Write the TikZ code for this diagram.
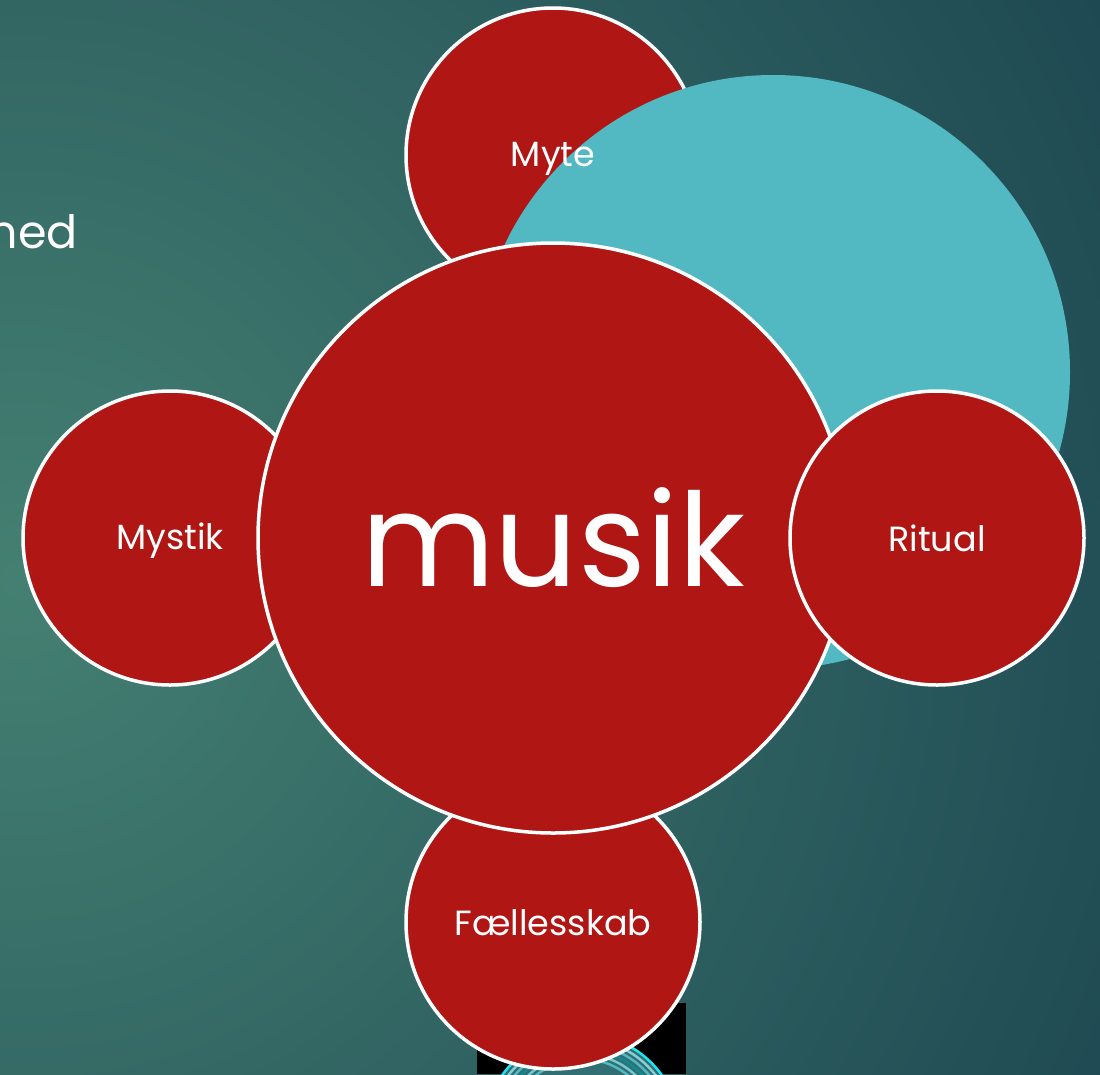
\documentclass[tikz,border=0pt]{standalone}
\usepackage{fontspec}
\setmainfont{Poppins}
\definecolor{bginner}{RGB}{68,128,114}
\definecolor{bgouter}{RGB}{20,58,74}
\definecolor{musred}{RGB}{175,22,20}
\definecolor{cyanbig}{RGB}{82,185,195}
\definecolor{cyanring}{RGB}{30,230,240}
\tikzset{
  bubble/.style={circle, fill=musred, draw=white, line width=3.5pt, text=white, inner sep=0pt},
  smallbubble/.style={bubble, minimum size=294pt, font=\fontsize{35}{40}\selectfont},
  bigbubble/.style={bubble, minimum size=590pt, font=\fontsize{130}{140}\selectfont},
  labeltext/.style={text=white, font=\fontsize{35}{40}\selectfont, inner sep=0pt},
}
\begin{document}
\begin{tikzpicture}[x=1pt,y=-1pt]
\useasboundingbox (0,0) rectangle (1100,1074);
% background
\begin{scope}
\clip (0,0) rectangle (1100,1074);
\shade[inner color=bginner, outer color=bgouter] (20,580) circle (1550);
\end{scope}
% partial text at left
\node[anchor=base east, text=white, font=\fontsize{46}{50}\selectfont, inner sep=0pt] (ned) at (78,248) {ned};
% black artifact box with cyan rings
\begin{scope}
\clip (477,1003) rectangle (686,1074);
\fill[black] (477,1003) rectangle (686,1074);
\fill[cyanbig!60!black] (582,1132) circle (98);
\foreach \r/\c in {98/cyanring,93/cyanbig!70!white,88/cyanbig,83/cyanring!60!black,78/cyanbig!80!white,73/cyanbig}
  \draw[\c, line width=2.5pt] (582,1132) circle (\r);
\end{scope}
% Myte behind
\node[smallbubble] (myte) at (553,155) {};
% big cyan circle
\fill[cyanbig] (773,372) circle (297);
\node[labeltext, yshift=-4pt] (mytetxt) at (myte.center) {Myte};
% side bubbles behind centre
\node[smallbubble, text=musred] (mystik) at (170,538) {};
\node[labeltext, yshift=-3pt] (mystiktxt) at (mystik.center) {Mystik};
\node[smallbubble] (faell) at (553,922) {};
\node[labeltext, yshift=-1pt] (faelltxt) at (faell.center) {Fællesskab};
% centre
\node[bigbubble] (musik) at (553,538) {musik};
% ritual in front
\node[smallbubble] (ritual) at (937,538) {};
\node[labeltext] (ritualtxt) at (ritual.center) {Ritual};
\end{tikzpicture}
\end{document}
